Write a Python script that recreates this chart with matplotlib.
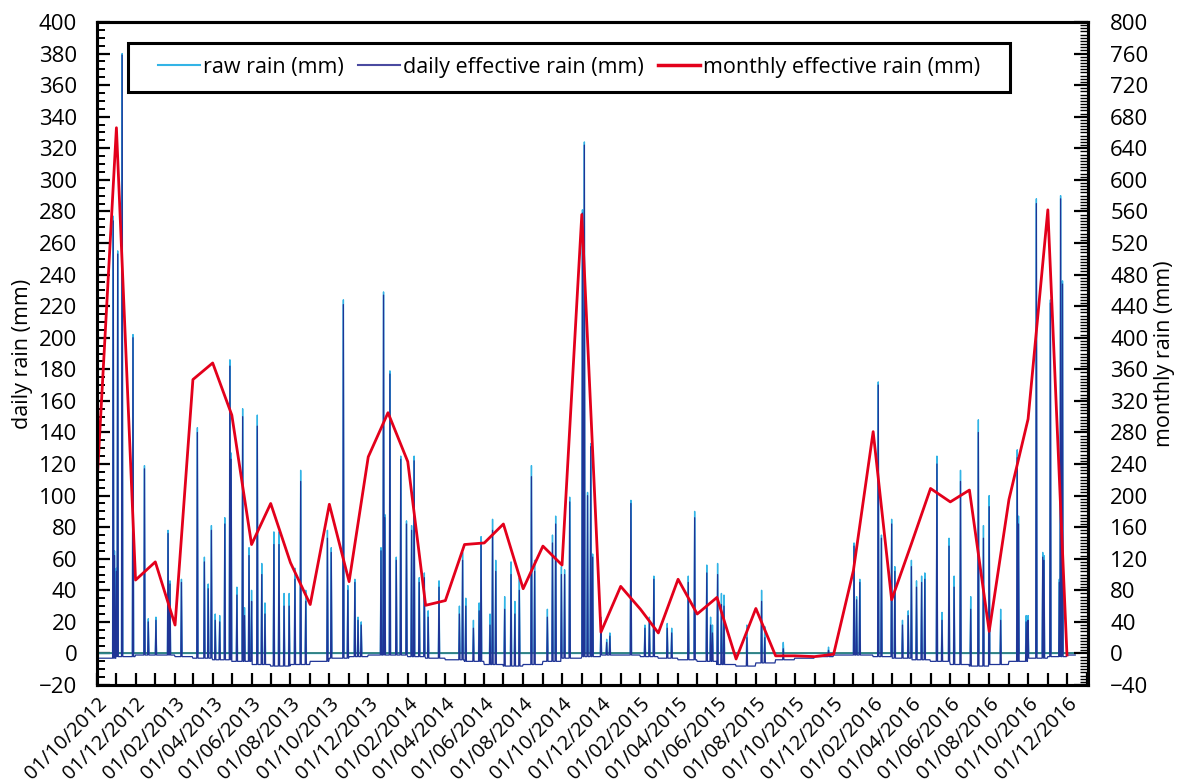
import matplotlib.pyplot as plt
import matplotlib.dates as mdates
from matplotlib.ticker import MultipleLocator
from matplotlib.lines import Line2D
from matplotlib.patches import Rectangle
import numpy as np
import pandas as pd

plt.rcParams['font.family'] = ['Open Sans', 'DejaVu Sans']

# monthly effective rain (mm), one value per month from 10/2012 to 12/2016
month_labels = pd.date_range('2012-10-01', '2016-12-01', freq='MS')
monthly_eff = [207, 666, 93,
               116, 36, 347, 368, 302, 138, 190, 115, 62, 189, 91, 249,
               305, 243, 61, 67, 138, 140, 164, 82, 136, 112, 556, 27,
               85, 56, 26, 94, 50, 71, -7, 57, -3, -3, -4, -1,
               105, 281, 68, 139, 209, 192, 207, 28, 195, 297, 562, -2]

# daily effective rain on dry days (mm), per month
dry_day_eff = [-3, -2, -1,
               -1, -2, -3, -4, -5, -7, -8, -7, -5, -3, -2, -1,
               -1, -2, -3, -4, -5, -7, -8, -7, -5, -3, -2, -1,
               -1, -2, -3, -4, -5, -7, -8, -6, -4, -3, -2, -1,
               -1, -2, -3, -4, -5, -7, -8, -7, -5, -3, -2, -1]

# rainy days
rain_days = ['2012-10-27', '2012-10-29', '2012-11-01', '2012-11-03', '2012-11-10', '2012-11-27',
             '2012-12-15', '2012-12-21', '2013-01-02', '2013-01-21', '2013-01-24', '2013-02-11',
             '2013-03-08', '2013-03-19', '2013-03-25', '2013-03-30', '2013-04-05', '2013-04-12',
             '2013-04-20', '2013-04-28', '2013-04-30', '2013-05-09', '2013-05-18', '2013-05-21',
             '2013-05-28', '2013-06-01', '2013-06-10', '2013-06-17', '2013-06-22', '2013-07-06',
             '2013-07-14', '2013-07-22', '2013-07-30', '2013-08-08', '2013-08-17', '2013-08-25',
             '2013-09-28', '2013-10-04', '2013-10-23', '2013-10-30', '2013-11-10', '2013-11-15',
             '2013-11-20', '2013-12-21', '2013-12-25', '2013-12-27', '2014-01-04', '2014-01-14',
             '2014-01-21', '2014-01-30', '2014-02-07', '2014-02-11', '2014-02-19', '2014-02-27',
             '2014-03-05', '2014-03-22', '2014-04-23', '2014-04-28', '2014-05-03', '2014-05-15',
             '2014-05-24', '2014-05-27', '2014-06-10', '2014-06-14', '2014-06-19', '2014-07-03',
             '2014-07-13', '2014-07-19', '2014-07-26', '2014-08-14', '2014-08-19', '2014-09-08',
             '2014-09-16', '2014-09-21', '2014-09-30', '2014-10-05', '2014-10-13', '2014-11-02',
             '2014-11-05', '2014-11-10', '2014-11-15', '2014-11-18', '2014-12-01', '2014-12-10',
             '2014-12-15', '2015-01-17', '2015-02-08', '2015-02-15', '2015-02-22', '2015-03-15',
             '2015-03-22', '2015-04-17', '2015-04-27', '2015-05-16', '2015-05-22', '2015-05-25',
             '2015-06-02', '2015-06-08', '2015-06-12', '2015-07-18', '2015-08-10', '2015-08-15',
             '2015-09-13', '2015-11-23', '2016-01-02', '2016-01-06', '2016-01-11', '2016-02-09',
             '2016-02-14', '2016-03-01', '2016-03-06', '2016-03-18', '2016-03-27', '2016-04-01',
             '2016-04-09', '2016-04-17', '2016-04-22', '2016-05-11', '2016-05-19', '2016-05-30',
             '2016-06-07', '2016-06-17', '2016-07-03', '2016-07-15', '2016-07-23', '2016-08-01',
             '2016-08-19', '2016-09-14', '2016-09-16', '2016-09-28', '2016-10-01', '2016-10-14',
             '2016-10-24', '2016-10-26', '2016-11-05', '2016-11-19', '2016-11-21', '2016-11-24']

daily_eff = [274, 62, 52, 253, 379, 200,
             117, 20, 21, 76, 44, 45,
             140, 58, 41, 78, 21, 20,
             82, 182, 123, 37, 150, 24,
             62, 33, 144, 50, 25, 69,
             69, 30, 30, 47, 109, 33,
             73, 64, 221, 40, 45, 21,
             18, 65, 227, 86, 177, 59,
             123, 82, 78, 122, 45, 48,
             23, 42, 25, 59, 30, 16,
             27, 69, 18, 78, 52, 28,
             50, 25, 40, 112, 52, 23,
             70, 82, 50, 50, 96, 279,
             322, 100, 131, 61, 21, 7,
             11, 95, 16, 21, 47, 16,
             13, 45, 86, 51, 18, 13,
             50, 31, 30, 10, 33, 10,
             3, 2, 68, 34, 45, 170,
             73, 82, 52, 18, 24, 55,
             42, 45, 47, 120, 21, 68,
             42, 109, 28, 140, 73, 93,
             21, 124, 82, 20, 21, 285,
             61, 59, 222, 45, 288, 234]

daily_raw = [277, 65, 54, 255, 380, 202,
             119, 22, 23, 78, 46, 47,
             143, 61, 44, 81, 25, 24,
             86, 186, 127, 42, 155, 29,
             67, 40, 151, 57, 32, 77,
             77, 38, 38, 54, 116, 40,
             78, 67, 224, 43, 47, 23,
             20, 67, 229, 88, 179, 61,
             125, 84, 81, 125, 48, 51,
             27, 46, 30, 64, 35, 21,
             32, 74, 25, 85, 59, 36,
             58, 33, 48, 119, 59, 28,
             75, 87, 55, 53, 99, 281,
             324, 102, 133, 63, 23, 9,
             13, 97, 18, 23, 49, 19,
             16, 49, 90, 56, 23, 18,
             57, 38, 37, 18, 40, 17,
             7, 4, 70, 36, 47, 172,
             75, 85, 55, 21, 27, 59,
             46, 49, 51, 125, 26, 73,
             49, 116, 36, 148, 81, 100,
             28, 129, 87, 24, 24, 288,
             64, 62, 224, 47, 290, 236]

days = pd.date_range('2012-10-01', '2016-12-14', freq='D')
eff = pd.Series(dry_day_eff, index=month_labels).reindex(days, method='ffill')
raw = pd.Series(0.0, index=days)
rd = pd.to_datetime(rain_days)
eff[rd] = daily_eff
raw[rd] = daily_raw

fig = plt.figure(figsize=(11.83, 7.82), dpi=100)
ax = fig.add_axes([0.0817, 0.124, 0.8380, 0.8479])
ax2 = ax.twinx()

ax.plot(days, raw, color='#33b4e6', lw=1.0, label='raw rain (mm)')
ax.axhline(0, color='#2e7f7f', lw=1.3)
ax.plot(days, eff, color='#1f3596', lw=0.9, label='daily effective rain (mm)')
ax2.plot(month_labels, monthly_eff, color='#e3001b', lw=2.0, label='monthly effective rain (mm)')

ax.set_xlim(pd.Timestamp('2012-10-01'), pd.Timestamp('2017-01-03'))
ax.set_ylim(-20, 400)
ax2.set_ylim(-40, 800)

ax.yaxis.set_major_locator(MultipleLocator(20))
ax.yaxis.set_minor_locator(MultipleLocator(5))
ax2.yaxis.set_major_locator(MultipleLocator(40))
ax2.yaxis.set_minor_locator(MultipleLocator(4))
ax.xaxis.set_major_locator(mdates.MonthLocator(bymonth=[2, 4, 6, 8, 10, 12]))
ax.xaxis.set_minor_locator(mdates.MonthLocator())
ax.xaxis.set_major_formatter(mdates.DateFormatter('%d/%m/%Y'))

ax.tick_params(axis='y', which='major', direction='in', length=9, width=1.6, labelsize=16, pad=14)
ax.tick_params(axis='y', which='minor', direction='in', length=6, width=1.4)
ax.tick_params(axis='x', which='both', direction='in', length=9, width=1.6, labelsize=14.5, pad=6)
ax2.tick_params(axis='y', which='major', direction='in', length=10, width=1.6, labelsize=16, pad=16)
ax2.tick_params(axis='y', which='minor', direction='in', length=6, width=1.0)
for lab in ax2.get_yticklabels():
    lab.set_horizontalalignment('left')
plt.setp(ax.get_xticklabels(), rotation=45, ha='right', rotation_mode='anchor')

for a in (ax, ax2):
    for s in a.spines.values():
        s.set_linewidth(2.2)
        s.set_color('black')

ax.set_ylabel('daily rain (mm)', fontsize=15.5, labelpad=4)
ax2.set_ylabel('monthly rain (mm)', fontsize=15.5, labelpad=4)

# legend box
ax2.add_patch(Rectangle((0.0316, 0.8944), 0.8897, 0.0739, transform=ax2.transAxes,
                        facecolor='white', edgecolor='black', lw=2.2, zorder=5))
handles = [Line2D([], [], color='#33b4e6', lw=1.5),
           Line2D([], [], color='#4a4aa0', lw=1.5),
           Line2D([], [], color='#e3001b', lw=2.5)]
labels = ['raw rain (mm)', 'daily effective rain (mm)', 'monthly effective rain (mm)']
leg = ax2.legend(handles, labels, ncol=3, loc='center left',
                 bbox_to_anchor=(0.0619, 0.9314, 0.8291, 0.0), mode='expand',
                 fontsize=15.5, frameon=False, handlelength=1.95, handletextpad=0.15,
                 columnspacing=0.5, borderpad=0, borderaxespad=0)
leg.set_zorder(6)

fig.savefig('out.png', dpi=100)
